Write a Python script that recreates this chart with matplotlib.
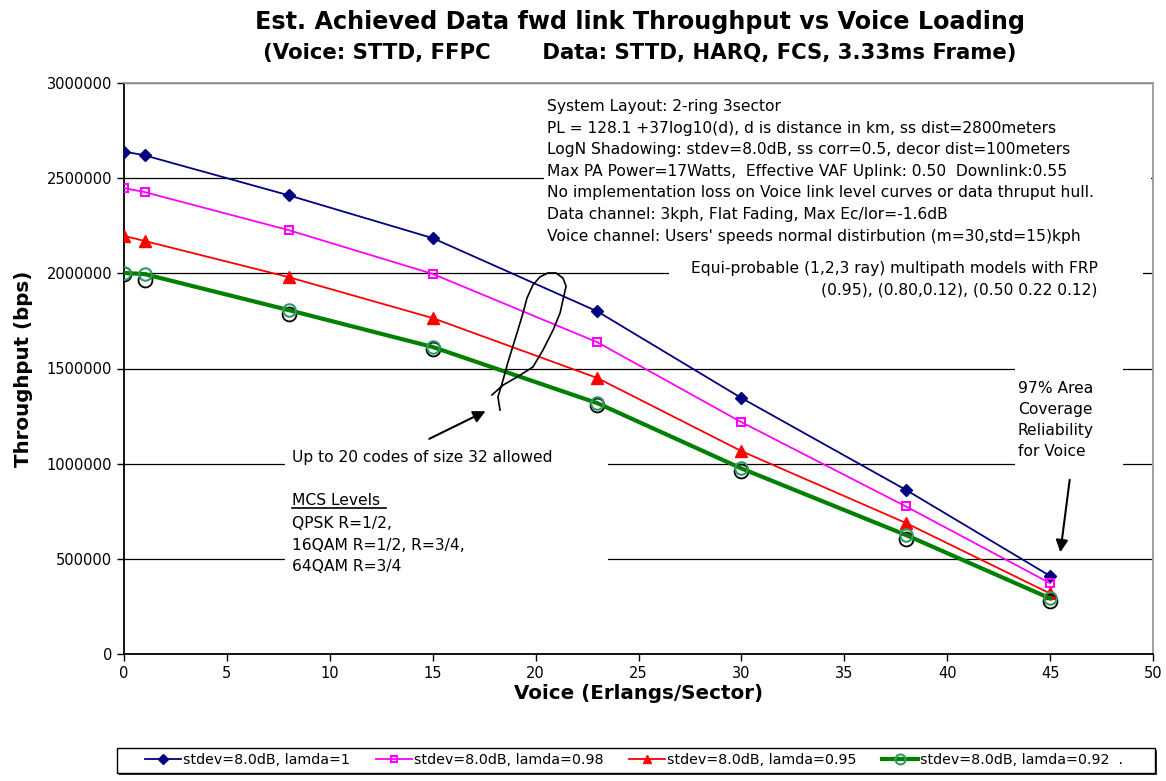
import matplotlib.pyplot as plt
from matplotlib.patches import Rectangle

plt.rcParams['font.family'] = ['DejaVu Sans']

# Data
voice = [0, 1, 8, 15, 23, 30, 38, 45]
tp_lam100 = [2640000, 2620000, 2410000, 2185000, 1800000, 1345000, 862000, 410000]
tp_lam098 = [2448000, 2427000, 2227000, 1997000, 1638000, 1218000, 775000, 372000]
tp_lam095 = [2197000, 2170000, 1980000, 1765000, 1450000, 1066000, 688000, 318000]
tp_lam092 = [2002000, 1996000, 1807000, 1613000, 1318000, 975000, 625000, 292000]
tp_hidden = [1997000, 1965000, 1787000, 1605000, 1310000, 962000, 605000, 278000]

labels = ['stdev=8.0dB, lamda=1', 'stdev=8.0dB, lamda=0.98',
          'stdev=8.0dB, lamda=0.95', 'stdev=8.0dB, lamda=0.92  .']

# hand drawn loop on the chart (approximate)
scribble_x = [18.27, 18.17, 18.42, 18.66, 18.90, 19.14, 19.39, 19.58, 19.87, 20.21, 20.60,
              20.99, 21.33, 21.48, 21.33, 21.19, 20.85, 20.36, 19.87, 19.10, 18.42, 17.88]
scribble_y = [1282000, 1350000, 1440000, 1534000, 1618000, 1702000, 1792000, 1870000,
              1939000, 1981000, 2002000, 2002000, 1975000, 1933000, 1860000, 1792000,
              1702000, 1597000, 1508000, 1455000, 1413000, 1361000]

setup_lines = [
    "System Layout: 2-ring 3sector",
    "PL = 128.1 +37log10(d), d is distance in km, ss dist=2800meters",
    "LogN Shadowing: stdev=8.0dB, ss corr=0.5, decor dist=100meters",
    "Max PA Power=17Watts,  Effective VAF Uplink: 0.50  Downlink:0.55",
    "No implementation loss on Voice link level curves or data thruput hull.",
    "Data channel: 3kph, Flat Fading, Max Ec/Ior=-1.6dB",
    "Voice channel: Users' speeds normal distirbution (m=30,std=15)kph",
]
note_fs = 11.2

fig = plt.figure(figsize=(11.66, 7.81), dpi=100)
ax = fig.add_axes([124 / 1166, 1 - 654 / 781, 1029 / 1166, 571 / 781])

ax.set_xlim(0, 50)
ax.set_ylim(0, 3000000)
ax.set_xticks(range(0, 51, 5))
ax.set_yticks(range(0, 3000001, 500000))
ax.ticklabel_format(axis='y', style='plain', useOffset=False)
ax.tick_params(labelsize=10.5, direction='out', length=5, width=1)
ax.tick_params(axis='x', pad=4)
ax.yaxis.grid(True, color='black', linewidth=0.9)
ax.set_axisbelow(True)
for s in ['left', 'bottom']:
    ax.spines[s].set_linewidth(1.3)
for s in ['top', 'right']:
    ax.spines[s].set_color('#999999')
    ax.spines[s].set_linewidth(1.3)

# white boxes behind the notes (hide the grid lines)
ax.add_patch(Rectangle((20.4, 2250000), 29.5, 700000, facecolor='white', edgecolor='none', zorder=1))
ax.add_patch(Rectangle((26.5, 1880000), 23.0, 200000, facecolor='white', edgecolor='none', zorder=1))
ax.add_patch(Rectangle((7.8, 370000), 15.7, 720000, facecolor='white', edgecolor='none', zorder=1))
ax.add_patch(Rectangle((43.3, 950000), 5.25, 560000, facecolor='white', edgecolor='none', zorder=1))

ax.plot(voice, tp_lam100, color='#000080', marker='D', markersize=6, linewidth=1.3, label=labels[0], zorder=5)
ax.plot(voice, tp_lam098, color='#ff00ff', marker='s', markersize=6, markerfacecolor='none',
        markeredgewidth=1.5, linewidth=1.3, label=labels[1], zorder=5)
ax.plot(voice, tp_lam095, color='#ff0000', marker='^', markersize=8, linewidth=1.3, label=labels[2], zorder=5)
ax.plot(voice, tp_hidden, linestyle='none', marker='o', markersize=10, markerfacecolor='none',
        markeredgecolor='black', markeredgewidth=1.3, zorder=5)
ax.plot(voice, tp_lam092, color='#008000', marker='o', markersize=9, markerfacecolor='none',
        markeredgecolor='#339966', markeredgewidth=1.5, linewidth=3, label=labels[3], zorder=6)

ax.plot(scribble_x, scribble_y, color='black', linewidth=1.2, zorder=7)

ax.text(20.55, 2916000, "\n".join(setup_lines), fontsize=note_fs, va='top', ha='left',
        linespacing=1.55, zorder=8)
ax.text(47.3, 1970000, "Equi-probable (1,2,3 ray) multipath models with FRP\n(0.95), (0.80,0.12), (0.50 0.22 0.12)",
        fontsize=note_fs, va='center', ha='right', multialignment='right', linespacing=1.55, zorder=8)
ax.text(8.16, 1030000, "Up to 20 codes of size 32 allowed", fontsize=note_fs, va='center', zorder=8)
ax.text(8.16, 809000, "MCS Levels", fontsize=note_fs, va='center', zorder=8)
ax.plot([8.16, 12.75], [765000, 765000], color='black', linewidth=1.2, zorder=8)
ax.text(8.16, 572000, "QPSK R=1/2,\n16QAM R=1/2, R=3/4,\n64QAM R=3/4", fontsize=note_fs,
        va='center', linespacing=1.55, zorder=8)
ax.text(43.44, 1229000, "97% Area\nCoverage\nReliability\nfor Voice", fontsize=note_fs,
        va='center', linespacing=1.5, zorder=8)

ax.annotate('', xy=(17.69, 1282000), xytext=(14.71, 1124000),
            arrowprops=dict(arrowstyle='-|>', color='black', lw=1.5, mutation_scale=18), zorder=9)
ax.annotate('', xy=(45.48, 520000), xytext=(45.97, 930000),
            arrowprops=dict(arrowstyle='-|>', color='black', lw=1.5, mutation_scale=18), zorder=9)

ax.set_xlabel('Voice (Erlangs/Sector)', fontsize=14.3, fontweight='bold', labelpad=2)
ax.set_ylabel('Throughput (bps)', fontsize=14.3, fontweight='bold', labelpad=10)

fig.text(0.549, 0.972, 'Est. Achieved Data fwd link Throughput vs Voice Loading',
         fontsize=17.2, fontweight='bold', ha='center', va='center')
fig.text(0.549, 0.932, '(Voice: STTD, FFPC       Data: STTD, HARQ, FCS, 3.33ms Frame)',
         fontsize=15.3, fontweight='bold', ha='center', va='center')

# legend box with a small shadow, entries centred inside
fig.patches.append(Rectangle((119 / 1166, 1 - 775 / 781), 1038 / 1166, 25 / 781, transform=fig.transFigure,
                             facecolor='#333333', edgecolor='none', zorder=0))
fig.patches.append(Rectangle((117 / 1166, 1 - 773 / 781), 1038 / 1166, 25 / 781, transform=fig.transFigure,
                             facecolor='white', edgecolor='black', linewidth=1.0, zorder=1))
leg = fig.legend(loc='center', bbox_to_anchor=(0.544, 1 - 760.5 / 781), ncol=4,
                 prop={'size': 10.3}, frameon=False,
                 handlelength=2.5, handletextpad=0.15, columnspacing=1.8, markerscale=0.8)

fig.savefig('out.png', dpi=100)
